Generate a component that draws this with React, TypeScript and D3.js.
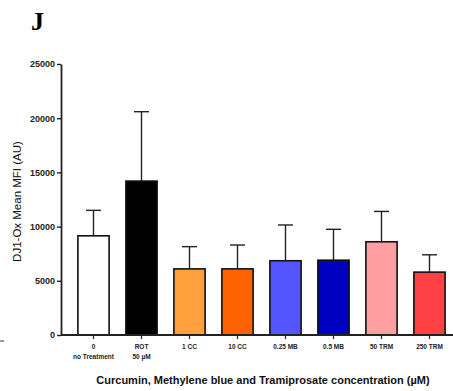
import React, { useEffect, useRef } from 'react'
import * as d3 from 'd3'

const width = 453
const height = 391
const margin = { top: 64, right: 0, bottom: 56, left: 61 }

const categories = ['0', 'ROT', '1 CC', '10 CC', '0.25 MB', '0.5 MB', '50 TRM', '250 TRM']
const subLabels = ['no Treatment', '50 µM', '', '', '', '', '', '']
const means = [9150, 14200, 6100, 6100, 6850, 6900, 8600, 5800]
const errors = [2350, 6400, 2050, 2200, 3300, 2850, 2800, 1600]
const colors = ['#ffffff', '#000000', '#ffa03c', '#ff6200', '#5555ff', '#0000c0', '#ff9fa2', '#ff4145']
const yTicks = [0, 5000, 10000, 15000, 20000, 25000]

const font = 'Arial, "Liberation Sans", sans-serif'

export default function App() {
  const node = useRef<SVGSVGElement>(null)

  useEffect(() => {
    const svg = d3.select(node.current)
    svg.selectAll('*').remove()

    const x = d3.scaleBand<number>()
      .domain(d3.range(categories.length))
      .range([69.5, 453.5])
      .paddingInner(0.35)
      .paddingOuter(0.175)

    const y = d3.scaleLinear()
      .domain([0, 25000])
      .range([height - margin.bottom, margin.top])

    // panel letter
    svg.append('text')
      .attr('x', 31)
      .attr('y', 30)
      .attr('font-family', '"Liberation Serif", "Times New Roman", serif')
      .attr('font-weight', 'bold')
      .attr('font-size', 26)
      .text('J')

    // bars
    svg.append('g')
      .selectAll('rect')
      .data(means)
      .join('rect')
        .attr('x', (d, i) => x(i)!)
        .attr('y', d => y(d))
        .attr('width', x.bandwidth())
        .attr('height', d => y(0) - y(d))
        .attr('fill', (d, i) => colors[i])
        .attr('stroke', '#111')
        .attr('stroke-width', 1.6)

    // error bars (upper only)
    const eb = svg.append('g')
      .attr('stroke', '#222')
      .attr('stroke-width', 1.4)
    means.forEach((m, i) => {
      const cx = x(i)! + x.bandwidth() / 2
      eb.append('line')
        .attr('x1', cx).attr('x2', cx)
        .attr('y1', y(m)).attr('y2', y(m + errors[i]))
      eb.append('line')
        .attr('x1', cx - 7.5).attr('x2', cx + 7.5)
        .attr('y1', y(m + errors[i])).attr('y2', y(m + errors[i]))
    })

    // y axis
    const yAxis = svg.append('g')
      .attr('transform', `translate(${margin.left},0)`)
      .call(d3.axisLeft(y).tickValues(yTicks).tickSize(4).tickSizeOuter(0).tickFormat(d3.format('d')))
    yAxis.select('.domain').attr('stroke', '#222').attr('stroke-width', 1.8)
    yAxis.selectAll('.tick line').attr('stroke', '#222').attr('stroke-width', 1.4)
    yAxis.selectAll('.tick text')
      .attr('font-family', font)
      .attr('font-size', 9)
      .attr('font-weight', 600)
      .attr('fill', '#222')
      .attr('x', -6)

    // x axis
    const xAxis = svg.append('g')
      .attr('transform', `translate(0,${y(0)})`)
    xAxis.append('line')
      .attr('x1', margin.left).attr('x2', width)
      .attr('stroke', '#222').attr('stroke-width', 1.8)
    const xt = xAxis.selectAll('g.tick')
      .data(categories)
      .join('g')
        .attr('class', 'tick')
        .attr('transform', (d, i) => `translate(${x(i)! + x.bandwidth() / 2},0)`)
    xt.append('line').attr('y2', 4).attr('stroke', '#222').attr('stroke-width', 1.2)
    xt.append('text')
      .attr('y', 14)
      .attr('text-anchor', 'middle')
      .attr('font-family', font)
      .attr('font-size', 6.5)
      .attr('font-weight', 'bold')
      .attr('fill', '#222')
      .text(d => d)
    xt.append('text')
      .attr('y', 24)
      .attr('text-anchor', 'middle')
      .attr('font-family', font)
      .attr('font-size', 6.5)
      .attr('font-weight', 'bold')
      .attr('fill', '#222')
      .text((d, i) => subLabels[i])

    // y label
    svg.append('text')
      .attr('transform', `translate(21,${(y(0) + y(25000)) / 2 + 2}) rotate(-90)`)
      .attr('text-anchor', 'middle')
      .attr('font-family', font)
      .attr('font-size', 11.5)
      .attr('fill', '#111')
      .text('DJ1-Ox Mean MFI (AU)')

    // x label
    svg.append('text')
      .attr('x', 263)
      .attr('y', 384)
      .attr('text-anchor', 'middle')
      .attr('font-family', font)
      .attr('font-size', 11)
      .attr('font-weight', 'bold')
      .attr('fill', '#111')
      .text('Curcumin, Methylene blue and Tramiprosate concentration (µM)')

    // stray mark at left edge
    svg.append('line')
      .attr('x1', 0).attr('x2', 4)
      .attr('y1', 341).attr('y2', 341)
      .attr('stroke', '#333').attr('stroke-width', 1)
  }, [])

  return (
    <svg ref={node} width={width} height={height}
      style={{ position: 'absolute', left: 0, top: 0, background: '#fff' }} />
  )
}
